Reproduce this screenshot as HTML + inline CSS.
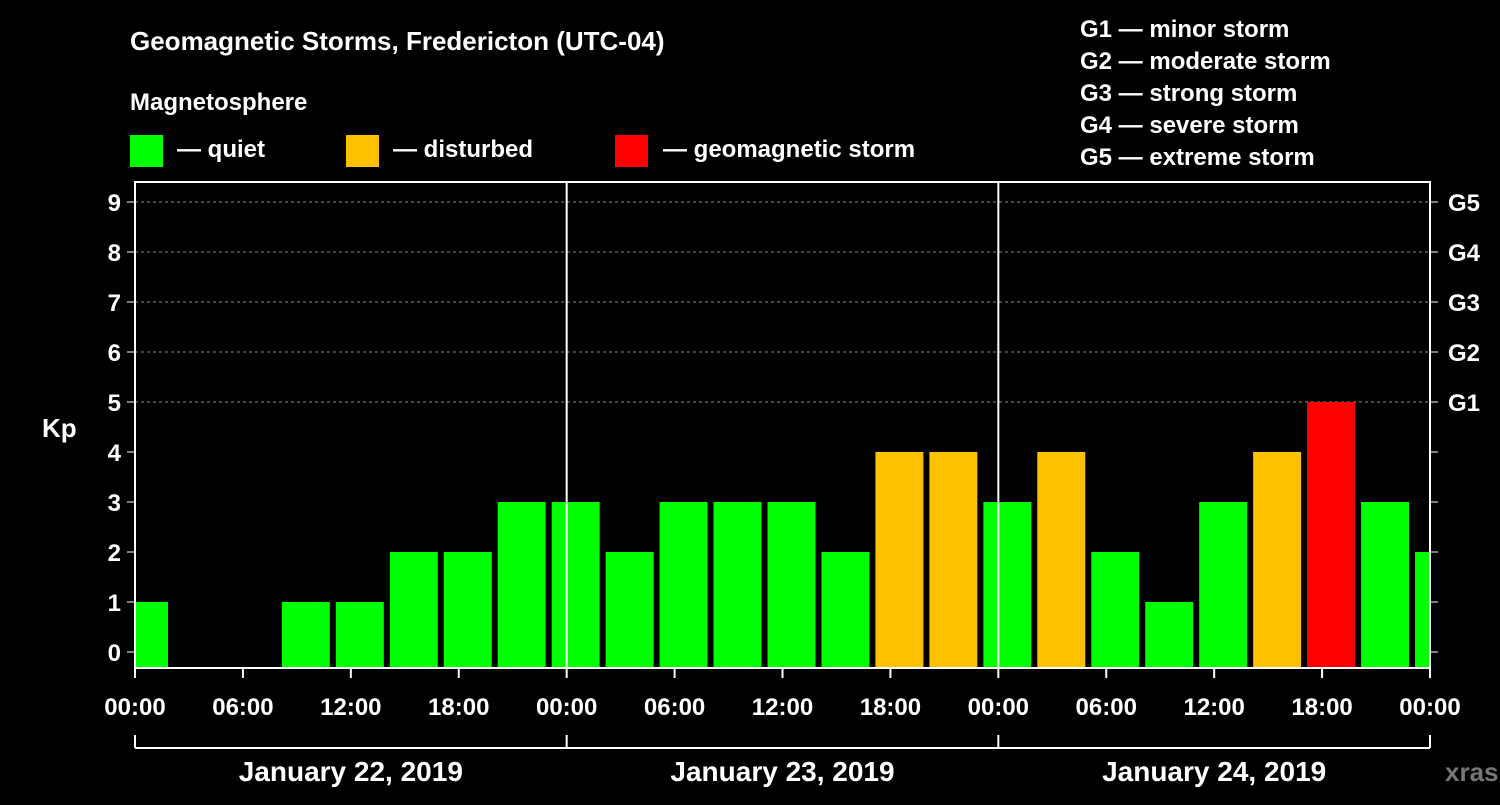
<!DOCTYPE html>
<html><head><meta charset="utf-8"><style>
body{margin:0;background:#000;}
svg text{font-family:"Liberation Sans",Arial,sans-serif;font-weight:bold;fill:#fff;}
</style></head><body>
<svg id="chart" width="1500" height="800" xmlns="http://www.w3.org/2000/svg">
<rect width="1500" height="800" fill="#000"/>
<text x="130" y="50" font-size="26">Geomagnetic Storms, Fredericton (UTC-04)</text>
<text x="130" y="110" font-size="24">Magnetosphere</text>
<g>
<rect x="130" y="135" width="33" height="32" fill="#00ff00"/>
<text x="177" y="157" font-size="24">— quiet</text>
<rect x="346" y="135" width="33" height="32" fill="#ffc000"/>
<text x="393" y="157" font-size="24">— disturbed</text>
<rect x="615" y="135" width="33" height="32" fill="#ff0000"/>
<text x="663" y="157" font-size="24">— geomagnetic storm</text>
</g>
<g font-size="24">
<text x="1080" y="37">G1 — minor storm</text>
<text x="1080" y="69">G2 — moderate storm</text>
<text x="1080" y="101">G3 — strong storm</text>
<text x="1080" y="133">G4 — severe storm</text>
<text x="1080" y="165">G5 — extreme storm</text>
</g>
<text x="42" y="437" font-size="26">Kp</text>
<text x="1445" y="781" font-size="26" style="fill:#777">xras.ru</text>
<g id="plot"></g>
</svg>
<script>
const kpValues=[1,0,0,1,1,2,2,3,3, 2,3,3,3,2,4,4,3, 4,2,1,3,4,5,3,2];
const yTicks=[0,1,2,3,4,5,6,7,8,9];
const gLabels=["G1","G2","G3","G4","G5"];
const xTickLabels=["00:00","06:00","12:00","18:00","00:00","06:00","12:00","18:00","00:00","06:00","12:00","18:00","00:00"];
const dayLabels=["January 22, 2019","January 23, 2019","January 24, 2019"];
const binStartHour=-1, binHours=3;

const L=135,R=1430,T=182,B=668;
const pxPerHour=(R-L)/72;
const x=h=>L+h*pxPerHour;
const y=v=>652-50*v;
const NS="http://www.w3.org/2000/svg";
const g=document.getElementById('plot');
function mk(tag,attrs,parent){const e=document.createElementNS(NS,tag);for(const k in attrs)e.setAttribute(k,attrs[k]);(parent||g).appendChild(e);return e;}

const clip=mk('clipPath',{id:'pc'});mk('rect',{x:L,y:T,width:R-L,height:B-T},clip);

yTicks.forEach(v=>{
  if(v>=5){const l=mk('line',{x1:L,x2:R,y1:y(v),y2:y(v),stroke:'#888','stroke-dasharray':'3,3'});
  
  }
  const t=mk('line',{x1:L-8,x2:L,y1:y(v),y2:y(v),stroke:'#fff','stroke-width':1});
  
  
  const lb=mk('text',{x:L-14,y:y(v)+9,'text-anchor':'end','font-size':24});lb.textContent=v;
  
  
  const rt=mk('line',{x1:R,x2:R+8,y1:y(v),y2:y(v),stroke:'#fff'});
  
  
  if(v>=5){const gl=mk('text',{x:R+18,y:y(v)+9,'font-size':24});gl.textContent=gLabels[v-5];
  
  }
});

const bars=mk('g',{'clip-path':'url(#pc)'});
kpValues.forEach((v,i)=>{
  const h0=binStartHour+i*binHours;
  const c=v>=5?'#ff0000':(v>=4?'#ffc000':'#00ff00');
  if(v<=0)return;
  const r=mk('rect',{x:x(h0)+3,y:y(v),width:binHours*pxPerHour-6,height:B-y(v),fill:c},bars);
  
  
});

[1,2].forEach(d=>{const l=mk('line',{x1:x(d*24),x2:x(d*24),y1:T,y2:B,stroke:'#fff','stroke-width':2});
  
  });
const f=mk('rect',{x:L,y:T,width:R-L,height:B-T,fill:'none',stroke:'#fff','stroke-width':2});



xTickLabels.forEach((s,i)=>{
  const xx=x(i*6);
  const t=mk('line',{x1:xx,x2:xx,y1:B,y2:B+10,stroke:'#fff','stroke-width':2});
  
  
  const lb=mk('text',{x:xx,y:715,'text-anchor':'middle','font-size':24});lb.textContent=s;
  
  
});
const br=mk('line',{x1:L,x2:R,y1:748,y2:748,stroke:'#fff','stroke-width':2});


[0,1,2,3].forEach(d=>{const t=mk('line',{x1:x(d*24),x2:x(d*24),y1:735,y2:748,stroke:'#fff','stroke-width':2});
  
  });
dayLabels.forEach((s,d)=>{
  const lb=mk('text',{x:x(d*24+12),y:781,'text-anchor':'middle','font-size':28});lb.textContent=s;
  
  
});
</script>
</body></html>
